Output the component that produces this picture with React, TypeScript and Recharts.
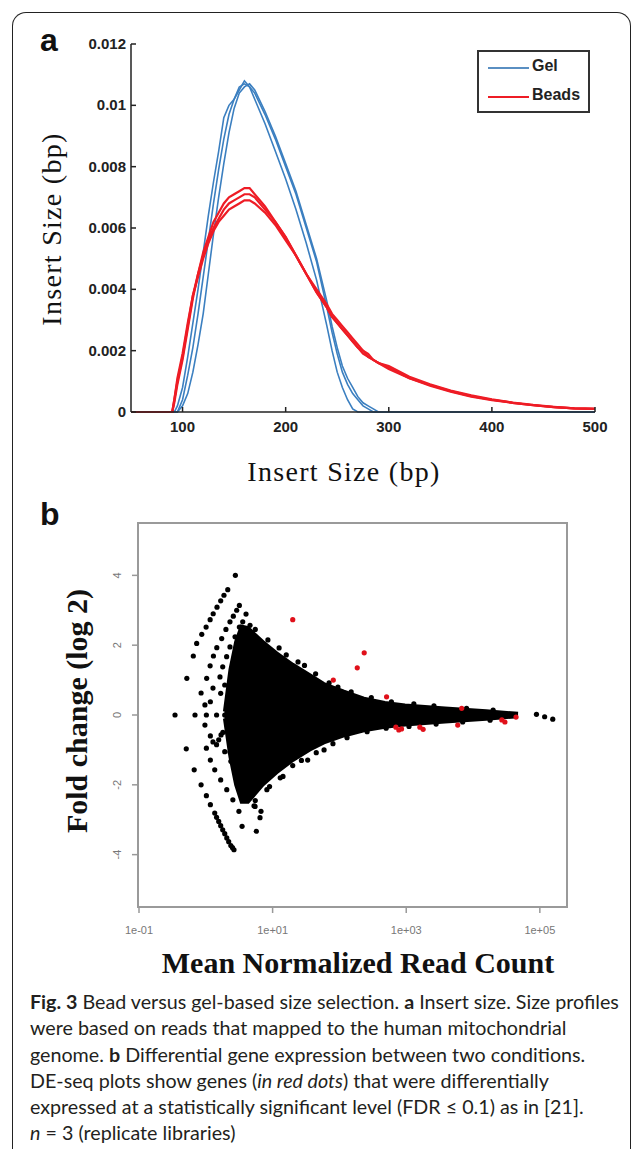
import React from 'react';
import { LineChart, Line, XAxis, YAxis, ComposedChart, Area, Scatter, ReferenceArea } from 'recharts';

// ---------- Panel a: insert size profiles ----------
const insertSizes = [50,60,70,80,90,92,95,100,105,110,115,120,125,130,135,140,145,150,155,160,165,170,180,190,200,210,220,230,240,245,250,255,260,265,270,275,280,285,290,300,320,340,360,380,400,420,440,460,480,500];

const gel1 = [0,0,0,0,0,0,0.0002,0.0008,0.0018,0.0029,0.0040,0.0052,0.0064,0.0075,0.0085,0.0096,0.0100,0.0102,0.0105,0.0108,0.0106,0.0102,0.0094,0.0085,0.0076,0.0066,0.0055,0.0043,0.0028,0.0020,0.0013,0.0008,0.0004,0.0001,0,0,0,0,0,0,0,0,0,0,0,0,0,0,0,0];
const gel2 = [0,0,0,0,0,0,0,0.0004,0.0012,0.0021,0.0032,0.0044,0.0056,0.0068,0.0079,0.0089,0.0097,0.0102,0.0106,0.0107,0.0106,0.0104,0.0097,0.0089,0.0080,0.0071,0.0060,0.0049,0.0034,0.0026,0.0019,0.0013,0.0009,0.0006,0.0004,0.0002,0.0001,0,0,0,0,0,0,0,0,0,0,0,0,0];
const gel3 = [0,0,0,0,0,0,0,0.0002,0.0006,0.0013,0.0022,0.0032,0.0045,0.0058,0.0070,0.0081,0.0091,0.0099,0.0104,0.0106,0.0107,0.0105,0.0098,0.0090,0.0081,0.0072,0.0061,0.0050,0.0036,0.0028,0.0021,0.0015,0.0011,0.0008,0.0005,0.0003,0.0002,0.0001,0,0,0,0,0,0,0,0,0,0,0,0];
const beads1 = [0,0,0,0,0,0.0003,0.0009,0.0017,0.0027,0.0037,0.0045,0.0052,0.0057,0.0062,0.0065,0.0068,0.0070,0.0071,0.0072,0.0073,0.0073,0.0071,0.0067,0.0062,0.0057,0.0051,0.0045,0.0039,0.0034,0.0031,0.0029,0.0027,0.0025,0.0023,0.0021,0.0019,0.0018,0.0017,0.0016,0.0014,0.0011,0.00086,0.00066,0.0005,0.00039,0.0003,0.00022,0.00016,0.00012,0.0001];
const beads2 = [0,0,0,0,0,0.0004,0.0010,0.0018,0.0028,0.0038,0.0045,0.0051,0.0056,0.0060,0.0063,0.0066,0.0068,0.0069,0.0070,0.0071,0.0071,0.0070,0.0066,0.0062,0.0057,0.0051,0.0045,0.0039,0.0034,0.0031,0.0029,0.0027,0.0025,0.0023,0.0021,0.0020,0.0018,0.0017,0.0016,0.00145,0.0011,0.00088,0.00068,0.00052,0.0004,0.0003,0.00022,0.00016,0.00012,0.0001];
const beads3 = [0,0,0,0,0,0.0004,0.0011,0.0019,0.0029,0.0038,0.0044,0.0050,0.0055,0.0059,0.0062,0.0064,0.0066,0.0067,0.0068,0.0069,0.0069,0.0068,0.0065,0.0061,0.0056,0.0051,0.0045,0.0040,0.0035,0.0032,0.0030,0.0028,0.0026,0.0024,0.0022,0.0020,0.0019,0.0017,0.0016,0.0015,0.00115,0.0009,0.0007,0.00054,0.00041,0.00031,0.00023,0.00017,0.00012,0.0001];

const sizeTicks = [100, 200, 300, 400, 500];
const densityTicks = [0, 0.002, 0.004, 0.006, 0.008, 0.01, 0.012];
const densityTickLabels = ['0', '0.002', '0.004', '0.006', '0.008', '0.01', '0.012'];

const profileRows = insertSizes.map((bp, i) => ({
  bp, g1: gel1[i], g2: gel2[i], g3: gel3[i], b1: beads1[i], b2: beads2[i], b3: beads3[i],
}));

// ---------- Panel b: MA plot ----------
// dense cloud envelope (mean count, lower / upper log2 fold change)
const cloudMean = [1.9, 2.3, 2.8, 3.4, 4.3, 7.2, 11.6, 20.2, 36.3, 58.8, 117, 233, 480, 959, 3810, 15700, 47200];
const cloudLow = [-0.1, -1.2, -2.0, -2.5, -2.5, -2.0, -1.65, -1.3, -1.0, -0.8, -0.6, -0.45, -0.35, -0.29, -0.2, -0.12, -0.05];
const cloudHigh = [0.1, 1.3, 2.1, 2.55, 2.5, 2.1, 1.78, 1.45, 1.15, 0.9, 0.68, 0.48, 0.36, 0.29, 0.2, 0.12, 0.05];

// individually visible black genes (fan lines at low counts, cloud edge, high-count tail)
const blackMean = [
  2.77,
  2.13, 1.87, 1.67, 1.47, 1.29, 1.16, 1.01, 0.87, 0.73, 0.65, 0.52,
  3.18, 2.90, 2.58, 2.30, 2.00, 1.73, 1.46, 1.30, 1.16, 1.03,
  4.0, 3.57, 3.18, 2.74, 2.30, 2.05, 1.79, 1.63,
  2.47, 2.74, 3.03, 3.37, 3.73, 4.14, 4.59,
  0.85, 1.17, 1.67, 1.92, 1.28, 0.97,
  0.346, 0.689, 1.02, 1.45, 1.92,
  0.97, 1.28, 1.69, 1.17, 1.45, 1.8,
  0.51, 0.67, 0.85, 1.02, 1.17, 1.36, 1.45, 1.56, 1.67, 1.79, 1.92, 2.06, 2.20, 2.37, 2.51, 2.64,
  1.02, 1.17, 1.36, 1.67, 2.06, 2.54, 3.13, 3.49,
  1.56, 1.92, 2.37, 2.91, 3.59, 4.43, 5.46, 5.7,
  2.30, 2.83, 3.48, 4.29, 5.27, 6.48,
  6.7, 8.2, 14.3, 33.5, 58.9,
  5.5, 8.5, 12.5, 16, 24, 30, 44, 70, 95, 150, 300, 600, 1300, 2600, 8000, 20000,
  5.5, 9, 13, 20, 27, 45, 80, 130, 260, 500, 1100, 2800, 7000, 18000,
  89000, 118000, 156000,
];
const blackFold = [
  4.0,
  3.59, 3.43, 3.27, 3.09, 2.9, 2.73, 2.52, 2.31, 2.05, 1.69, 1.05,
  3.14, 3.0, 2.83, 2.67, 2.45, 2.19, 1.93, 1.69, 1.41, 1.05,
  2.89, 2.67, 2.52, 2.24, 1.95, 1.67, 1.38, 1.09,
  1.11, 1.37, 1.63, 1.89, 2.14, 2.37, 2.57,
  0.63, 0.38, 0.62, 0.86, 0.77, 0.29,
  0, 0, 0, 0, 0,
  -0.29, -0.77, -0.57, -0.6, -0.85, -0.5,
  -0.97, -1.57, -2.0, -2.31, -2.57, -2.81, -2.93, -3.05, -3.17, -3.29, -3.4, -3.52, -3.63, -3.74, -3.8, -3.86,
  -0.95, -1.29, -1.57, -1.86, -2.14, -2.43, -2.76, -3.19,
  -0.71, -1.05, -1.33, -1.62, -1.91, -2.29, -2.62, -3.33,
  -1.06, -1.43, -1.8, -2.2, -2.6, -2.94,
  -2.76, -2.14, -1.76, -1.29, -1.0,
  2.45, 2.15, 1.92, 1.72, 1.52, 1.42, 1.18, 0.92, 0.8, 0.66, 0.5, 0.38, 0.32, 0.26, 0.19, 0.14,
  -2.45, -2.05, -1.8, -1.45, -1.3, -1.08, -0.82, -0.65, -0.48, -0.38, -0.33, -0.26, -0.2, -0.15,
  0.02, -0.05, -0.12,
];

// significant genes (red)
const redMean = [20, 81, 185, 235, 508, 700, 775, 850, 1600, 1790, 5900, 6760, 27000, 30000, 44000];
const redFold = [2.73, 1.0, 1.35, 1.78, 0.52, -0.35, -0.43, -0.4, -0.35, -0.41, -0.29, 0.19, -0.14, -0.2, -0.06];

const countTicks = [0.1, 10, 1000, 100000];
const countTickLabels = ['1e-01', '1e+01', '1e+03', '1e+05'];
const foldTicks = [-4, -2, 0, 2, 4];

const cloudRows = cloudMean.map((m, i) => ({ m, range: [cloudLow[i], cloudHigh[i]] }));
const blackRows = blackMean.map((m, i) => ({ m, fc: blackFold[i] }));
const redRows = redMean.map((m, i) => ({ m, fc: redFold[i] }));

const BLUE = '#3b7fc0';
const RED = '#ee1c25';

const sans = '"Liberation Sans", Arial, sans-serif';
const serif = '"Liberation Serif", "Times New Roman", serif';

const ASizeTick = (p: any) => (
  <g>
    <line x1={p.x} x2={p.x} y1={p.y} y2={p.y - 5} stroke="#222" strokeWidth={1.5} />
    <text x={p.x} y={p.y + 20} textAnchor="middle" fontFamily={sans} fontWeight="bold" fontSize={15} fill="#222">
      {p.payload.value}
    </text>
  </g>
);

const ADensityTick = (p: any) => {
  const idx = densityTicks.indexOf(p.payload.value);
  return (
    <g>
      <line x1={p.x} x2={p.x + 5} y1={p.y} y2={p.y} stroke="#222" strokeWidth={1.5} />
      <text x={p.x - 5} y={p.y + 5} textAnchor="end" fontFamily={sans} fontWeight="bold" fontSize={15} fill="#222">
        {densityTickLabels[idx]}
      </text>
    </g>
  );
};

const BCountTick = (p: any) => {
  const idx = countTicks.findIndex((t) => Math.abs(Math.log10(t) - Math.log10(p.payload.value)) < 1e-6);
  return (
    <g>
      <line x1={p.x} x2={p.x} y1={p.y} y2={p.y + 6} stroke="#999" strokeWidth={1.5} />
      <text x={p.x} y={p.y + 27} textAnchor="middle" fontFamily={sans} fontSize={11} fill="#777">
        {countTickLabels[idx]}
      </text>
    </g>
  );
};

const BFoldTick = (p: any) => (
  <g>
    <line x1={p.x} x2={p.x - 6} y1={p.y} y2={p.y} stroke="#999" strokeWidth={1.5} />
    <text x={p.x - 21} y={p.y} textAnchor="middle" dominantBaseline="central" fontFamily={sans} fontSize={11} fill="#777"
      transform={`rotate(-90, ${p.x - 21}, ${p.y})`}>
      {p.payload.value}
    </text>
  </g>
);

const Dot = (color: string) => (p: any) => <circle cx={p.cx} cy={p.cy} r={2.6} fill={color} />;

export default function App() {
  return (
    <div style={{ position: 'absolute', left: 0, top: 0, width: 633, height: 1149, background: '#fff', overflow: 'hidden' }}>
      <div style={{ position: 'absolute', left: 12, top: 12, width: 617, height: 1160, borderLeft: '1.5px solid #222', borderTop: '1.5px solid #222', borderRight: '1.5px solid #222', borderTopLeftRadius: 14, borderTopRightRadius: 14 }} />

      <div style={{ position: 'absolute', left: 40, top: 22, fontFamily: sans, fontWeight: 'bold', fontSize: 32, color: '#111' }}>a</div>
      <div style={{ position: 'absolute', left: 40, top: 496, fontFamily: sans, fontWeight: 'bold', fontSize: 32, color: '#111' }}>b</div>

      <div style={{ position: 'absolute', left: 0, top: 0 }}>
        <LineChart width={633} height={500} data={profileRows} margin={{ top: 44, right: 38, bottom: 58, left: 71 }}>
          <XAxis dataKey="bp" type="number" domain={[50, 500]} ticks={sizeTicks} height={30} tickSize={0} tickMargin={0}
            tickLine={false} axisLine={{ stroke: '#222', strokeWidth: 1.5 }} tick={<ASizeTick />} interval={0} />
          <YAxis type="number" domain={[0, 0.012]} ticks={densityTicks} width={60} tickSize={0} tickMargin={0}
            tickLine={false} axisLine={{ stroke: '#222', strokeWidth: 1.5 }} tick={<ADensityTick />} interval={0} />
          <Line dataKey="g1" stroke={BLUE} strokeWidth={1.6} dot={false} isAnimationActive={false} />
          <Line dataKey="g2" stroke={BLUE} strokeWidth={1.6} dot={false} isAnimationActive={false} />
          <Line dataKey="g3" stroke={BLUE} strokeWidth={1.6} dot={false} isAnimationActive={false} />
          <Line dataKey="b1" stroke={RED} strokeWidth={2.2} dot={false} isAnimationActive={false} />
          <Line dataKey="b2" stroke={RED} strokeWidth={2.2} dot={false} isAnimationActive={false} />
          <Line dataKey="b3" stroke={RED} strokeWidth={2.2} dot={false} isAnimationActive={false} />
        </LineChart>
      </div>

      <div style={{ position: 'absolute', left: 477, top: 50, width: 109, height: 59, border: '2px solid #333', background: '#fff' }}>
        <div style={{ position: 'absolute', left: 9, top: 15, width: 41, height: 2, background: '#5a8fc2' }} />
        <div style={{ position: 'absolute', left: 53, top: 5, fontFamily: sans, fontWeight: 'bold', fontSize: 16, color: '#222' }}>Gel</div>
        <div style={{ position: 'absolute', left: 9, top: 44, width: 41, height: 2, background: RED }} />
        <div style={{ position: 'absolute', left: 53, top: 34, fontFamily: sans, fontWeight: 'bold', fontSize: 16, color: '#222' }}>Beads</div>
      </div>

      <div style={{ position: 'absolute', left: 52, top: 229, transform: 'translate(-50%, -50%) rotate(-90deg)', whiteSpace: 'nowrap', fontFamily: serif, fontSize: 28, letterSpacing: 1.3, color: '#111' }}>Insert Size (bp)</div>
      <div style={{ position: 'absolute', left: 344, top: 472, transform: 'translate(-50%, -50%)', whiteSpace: 'nowrap', fontFamily: serif, fontSize: 28, letterSpacing: 1.3, color: '#111' }}>Insert Size (bp)</div>

      <div style={{ position: 'absolute', left: 0, top: 480 }}>
        <ComposedChart width={633} height={520} data={cloudRows} margin={{ top: 43, right: 66, bottom: 63, left: 98 }}>
          <XAxis dataKey="m" type="number" scale="log" domain={[0.0966, 255000]} ticks={countTicks} allowDataOverflow height={30}
            tickSize={0} tickMargin={0} tickLine={false} axisLine={false} tick={<BCountTick />} interval={0} />
          <YAxis dataKey="fc" type="number" domain={[-5.5, 5.5]} ticks={foldTicks} allowDataOverflow width={40}
            tickSize={0} tickMargin={0} tickLine={false} axisLine={false} tick={<BFoldTick />} interval={0} />
          <Area dataKey="range" type="linear" stroke="#000" strokeWidth={3} fill="#000" fillOpacity={1} isAnimationActive={false} dot={false} activeDot={false} />
          <Scatter data={blackRows} fill="#000" shape={Dot('#000')} isAnimationActive={false} />
          <Scatter data={redRows} fill={RED} shape={Dot('#e0101a')} isAnimationActive={false} />
          <ReferenceArea x1={0.0966} x2={255000} y1={-5.5} y2={5.5} fill="none" stroke="#9a9a9a" strokeWidth={2} ifOverflow="visible" />
        </ComposedChart>
      </div>

      <div style={{ position: 'absolute', left: 77, top: 711, transform: 'translate(-50%, -50%) rotate(-90deg)', whiteSpace: 'nowrap', fontFamily: serif, fontWeight: 'bold', fontSize: 30, color: '#111' }}>Fold change (log 2)</div>
      <div style={{ position: 'absolute', left: 358, top: 963, transform: 'translate(-50%, -50%)', whiteSpace: 'nowrap', fontFamily: serif, fontWeight: 'bold', fontSize: 30, color: '#111' }}>Mean Normalized Read Count</div>

      <div style={{ position: 'absolute', left: 30, top: 989, fontFamily: 'Lato, "Open Sans", sans-serif', fontSize: 19.7, lineHeight: '26.3px', color: '#231f20', whiteSpace: 'nowrap' }}>
        <b>Fig. 3</b> Bead versus gel-based size selection. <b>a</b> Insert size. Size profiles<br />
        were based on reads that mapped to the human mitochondrial<br />
        genome. <b>b</b> Differential gene expression between two conditions.<br />
        DE-seq plots show genes (<i>in red dots</i>) that were differentially<br />
        expressed at a statistically significant level (FDR ≤ 0.1) as in [21].<br />
        <i>n</i> = 3 (replicate libraries)
      </div>
    </div>
  );
}
